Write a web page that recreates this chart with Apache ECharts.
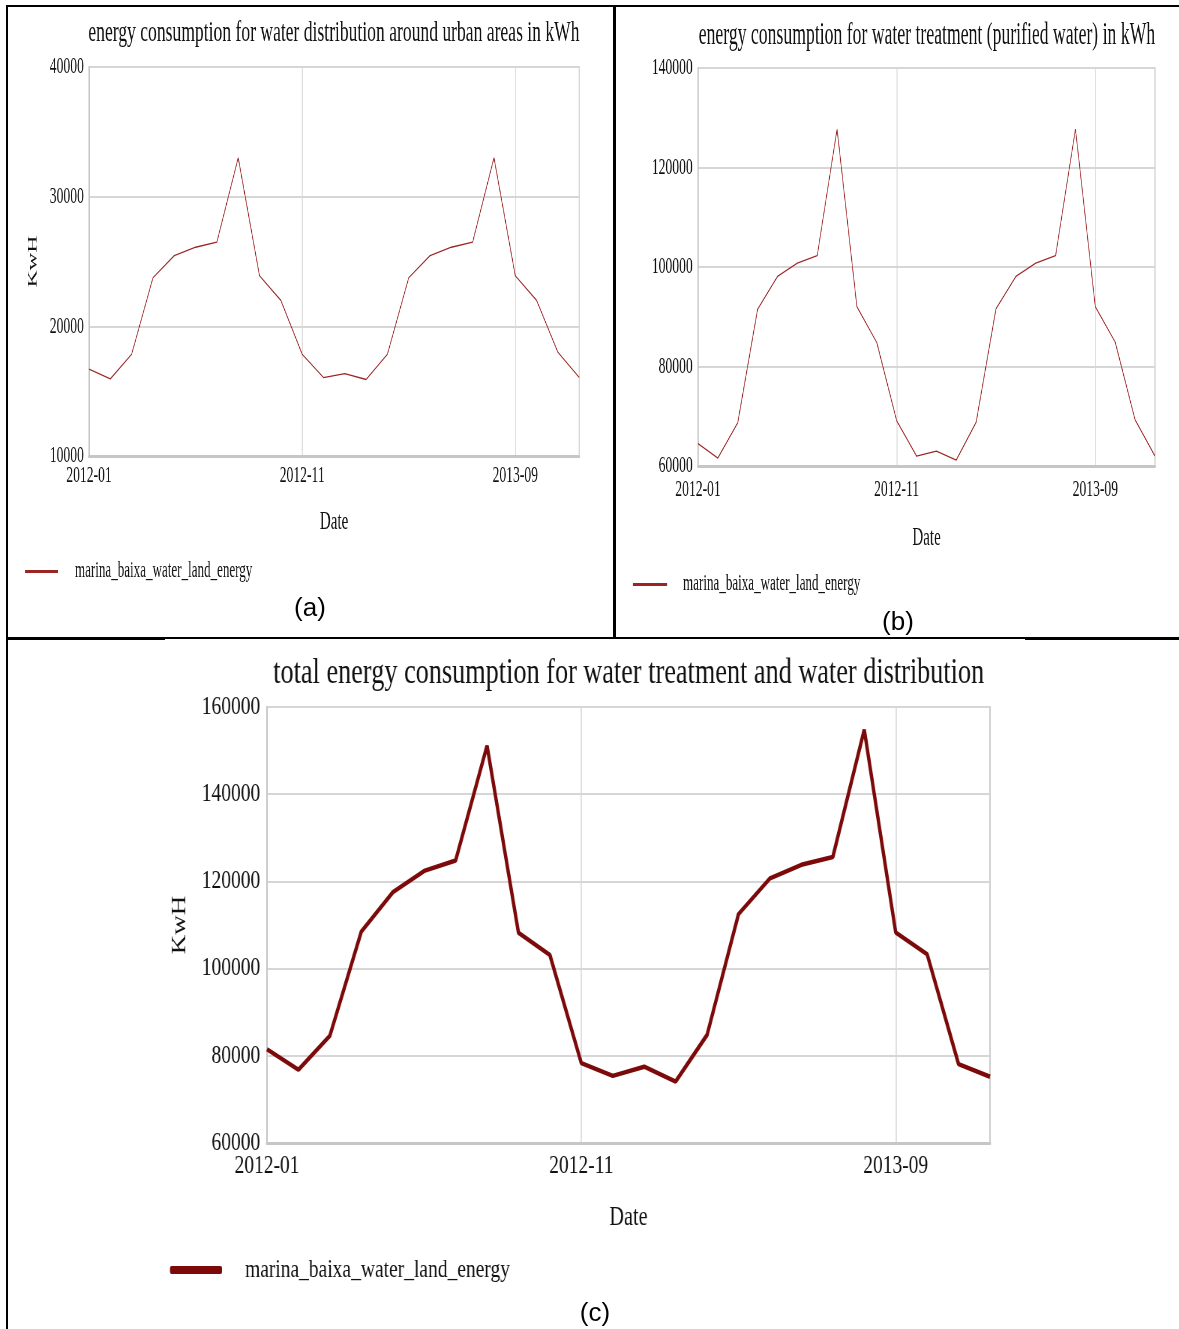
<!DOCTYPE html>
<html>
<head>
<meta charset="utf-8">
<script src="https://cdn.jsdelivr.net/npm/echarts@6/dist/echarts.min.js"></script>
<style>
  html, body { margin: 0; padding: 0; background: #fff; }
  body { width: 1179px; height: 1329px; position: relative; overflow: hidden; }
  .panel { position: absolute; transform-origin: 0 0; }
  .rule { position: absolute; background: #000; }
  .tag { position: absolute; font-family: "Liberation Sans", Arial, sans-serif; font-size: 26px; color: #000; transform: translateX(-50%); line-height: 1; }
</style>
</head>
<body>
<div id="panelA" class="panel"></div>
<div id="panelB" class="panel"></div>
<div id="panelC" class="panel"></div>
<div class="tag" style="left:310px;top:594px;">(a)</div>
<div class="tag" style="left:898px;top:608px;">(b)</div>
<div class="tag" style="left:595px;top:1299px;">(c)</div>
<div class="rule" style="left:7px;top:5px;width:1172px;height:2px;"></div>
<div class="rule" style="left:6px;top:5px;width:2px;height:1324px;"></div>
<div class="rule" style="left:613px;top:5px;width:3px;height:634px;"></div>
<div class="rule" style="left:7px;top:637px;width:1172px;height:2px;"></div>
<div class="rule" style="left:7px;top:637px;width:158px;height:3px;"></div>
<div class="rule" style="left:1025px;top:637px;width:154px;height:3px;"></div>
<script>
// Monthly dates on the x axis
const months = [
  '2012-01', '2012-02', '2012-03', '2012-04', '2012-05', '2012-06',
  '2012-07', '2012-08', '2012-09', '2012-10', '2012-11', '2012-12',
  '2013-01', '2013-02', '2013-03', '2013-04', '2013-05', '2013-06',
  '2013-07', '2013-08', '2013-09', '2013-10', '2013-11', '2013-12'
];

// (a) energy used for distributing water around urban areas, kWh
const distributionKwh = [
  16700, 15950, 17850, 23750, 25450, 26100, 26500, 33000, 23900, 22000, 17850, 16050,
  16350, 15900, 17850, 23750, 25450, 26100, 26500, 33000, 23900, 22000, 18000, 16050
];

// (b) energy used for water treatment (purified water), kWh
const treatmentKwh = [
  64500, 61600, 68700, 91500, 98100, 100800, 102300, 127700, 92000, 84800, 69100, 62000,
  63000, 61200, 68800, 91600, 98100, 100800, 102300, 127700, 92000, 84900, 69300, 62000
];

// (c) total energy for treatment and distribution, kWh
const totalKwh = [
  81500, 76800, 84600, 108500, 117500, 122400, 124800, 151100, 108200, 103100, 78300, 75400,
  77500, 74100, 84800, 112500, 120700, 123800, 125600, 154800, 108300, 103300, 78100, 75200
];

const seriesName = 'marina_baixa_water_land_energy';
const titles = [
  'energy consumption for water distribution around urban areas in kWh',
  'energy consumption for water treatment (purified water) in kWh',
  'total energy consumption for water treatment and water distribution'
];
const xName = 'Date';
const yName = 'KwH';

const SERIF = '"Liberation Serif", "Times New Roman", serif';

// Each panel is laid out at natural width, then squeezed horizontally
// to the narrow, condensed look of the figure.
function buildPanel(id, p) {
  const el = document.getElementById(id);
  const w = p.visualWidth / p.k;
  el.style.left = p.x + 'px';
  el.style.top = p.y + 'px';
  el.style.width = w + 'px';
  el.style.height = p.height + 'px';
  el.style.transform = 'scaleX(' + p.k + ')';
  const u = v => (v - p.x) / p.k;      // page x -> unscaled panel x
  const gridLeft = u(p.plotLeft);
  const gridRight = w - u(p.plotRight);

  const chart = echarts.init(el, null, { renderer: 'canvas' });
  chart.setOption({
    animation: false,
    backgroundColor: 'transparent',
    title: {
      text: p.title,
      left: u(p.titleCenter),
      textAlign: 'center',
      top: p.titleTop,
      textStyle: { fontFamily: SERIF, fontSize: p.titleSize, fontWeight: 'normal', color: '#111' }
    },
    legend: {
      data: [seriesName],
      left: u(p.legendLeft),
      top: p.legendTop,
      padding: 0,
      icon: p.legendIcon,
      itemWidth: p.legendIconW / p.k,
      itemHeight: p.legendIconH,
      textStyle: {
        fontFamily: SERIF, fontSize: p.legendSize, color: '#111',
        padding: [0, 0, 0, p.legendTextGap / p.k - 5]
      }
    },
    grid: {
      left: gridLeft, right: gridRight, top: p.plotTop - p.y, bottom: p.y + p.height - p.plotBottom,
      show: true, borderColor: '#cdcdcd', borderWidth: 2, containLabel: false
    },
    xAxis: {
      type: 'category',
      data: months,
      boundaryGap: false,
      name: xName,
      nameLocation: 'middle',
      nameGap: p.xNameGap,
      nameTextStyle: { fontFamily: SERIF, fontSize: p.xNameSize, color: '#111' },
      axisLine: { show: true, lineStyle: { color: '#c6c6c6', width: 3 } },
      axisTick: { show: false },
      axisLabel: {
        interval: 9, margin: p.xLabelMargin,
        fontFamily: SERIF, fontSize: p.xLabelSize, color: '#111'
      },
      splitLine: { show: true, interval: 9, lineStyle: { color: '#d6d6d6', width: 1.5 } }
    },
    yAxis: {
      type: 'value',
      min: p.yMin, max: p.yMax, interval: p.yStep,
      name: p.showYName ? yName : '',
      nameLocation: 'middle',
      nameGap: p.yNameGap,
      nameTextStyle: { fontFamily: SERIF, fontSize: p.yNameSize, color: '#111' },
      axisLine: { show: true, lineStyle: { color: '#c6c6c6', width: 2 } },
      axisTick: { show: false },
      axisLabel: {
        margin: p.yLabelMargin, formatter: v => String(v),
        fontFamily: SERIF, fontSize: p.yLabelSize, color: '#111'
      },
      splitLine: { show: true, lineStyle: { color: '#d6d6d6', width: 2 } }
    },
    series: [{
      name: seriesName,
      type: 'line',
      data: p.values,
      symbol: 'none',
      lineStyle: { color: p.lineColor, width: p.lineWidth },
      itemStyle: { color: p.lineColor }
    }]
  });
}

buildPanel('panelA', {
  x: 0, y: 0, visualWidth: 614, height: 638, k: 0.58,
  plotLeft: 89, plotRight: 579, plotTop: 67, plotBottom: 456,
  title: titles[0], titleCenter: 331, titleTop: 13, titleSize: 30.3,
  values: distributionKwh, yMin: 10000, yMax: 40000, yStep: 10000,
  yLabelSize: 23.5, yLabelMargin: 9, xLabelSize: 23.5, xLabelMargin: 8,
  xNameGap: 53, xNameSize: 26, showYName: true, yNameGap: 85, yNameSize: 24,
  legendLeft: 25, legendTop: 560, legendIcon: 'rect', legendIconW: 33, legendIconH: 3,
  legendTextGap: 17, legendSize: 22.5,
  lineColor: '#9b2424', lineWidth: 1.3
});

buildPanel('panelB', {
  x: 614, y: 0, visualWidth: 565, height: 638, k: 0.58,
  plotLeft: 698, plotRight: 1155, plotTop: 68, plotBottom: 466,
  title: titles[1], titleCenter: 924, titleTop: 15, titleSize: 30.5,
  values: treatmentKwh, yMin: 60000, yMax: 140000, yStep: 20000,
  yLabelSize: 23.5, yLabelMargin: 9, xLabelSize: 23.5, xLabelMargin: 12,
  xNameGap: 59, xNameSize: 26, showYName: false, yNameGap: 80, yNameSize: 24,
  legendLeft: 633, legendTop: 573, legendIcon: 'rect', legendIconW: 34, legendIconH: 3,
  legendTextGap: 16, legendSize: 22.5,
  lineColor: '#9b2424', lineWidth: 1.3
});

buildPanel('panelC', {
  x: 0, y: 638, visualWidth: 1179, height: 691, k: 0.75,
  plotLeft: 267, plotRight: 990, plotTop: 707, plotBottom: 1143,
  title: titles[2], titleCenter: 625, titleTop: 13, titleSize: 35,
  values: totalKwh, yMin: 60000, yMax: 160000, yStep: 20000,
  yLabelSize: 26, yLabelMargin: 9, xLabelSize: 26, xLabelMargin: 10,
  xNameGap: 61, xNameSize: 27, showYName: true, yNameGap: 103, yNameSize: 27,
  legendLeft: 170, legendTop: 619, legendIcon: 'roundRect', legendIconW: 52, legendIconH: 8,
  legendTextGap: 23, legendSize: 26,
  lineColor: '#7d0a0a', lineWidth: 4.5
});
</script>
</body>
</html>
